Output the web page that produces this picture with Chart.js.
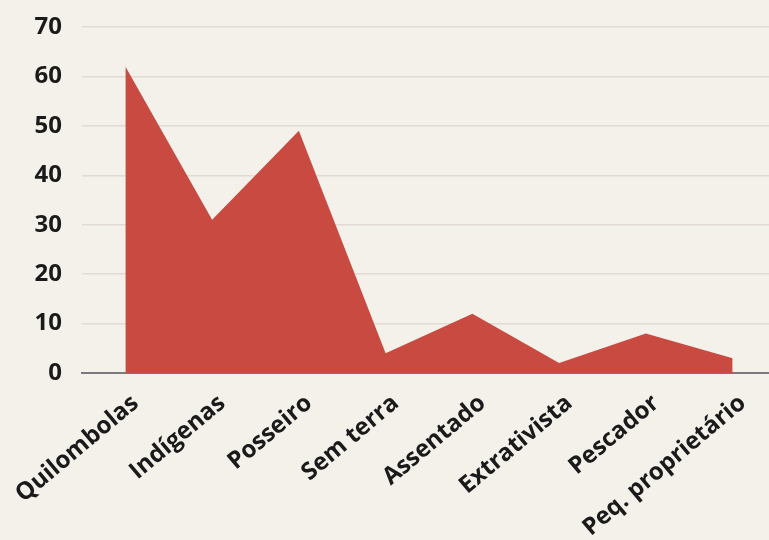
<!DOCTYPE html>
<html>
<head>
<meta charset="utf-8">
<script src="https://cdn.jsdelivr.net/npm/chart.js@4.4.1/dist/chart.umd.min.js"></script>
<style>
  html, body { margin: 0; padding: 0; width: 769px; height: 540px; overflow: hidden; background: #f4f1eb; }
  #wrap { position: absolute; left: 0; top: 0; width: 776px; height: 540px; }
</style>
</head>
<body>
<div id="wrap"><canvas id="c" width="776" height="540"></canvas></div>
<script>
const categories = ["Quilombolas", "Indígenas", "Posseiro", "Sem terra", "Assentado", "Extrativista", "Pescador", "Peq. proprietário"];
const values = [62, 31, 49, 4, 12, 2, 8, 3];
const yTicks = [0, 10, 20, 30, 40, 50, 60, 70];

new Chart(document.getElementById('c'), {
  type: 'line',
  data: {
    labels: categories,
    datasets: [{
      data: values,
      fill: 'origin',
      backgroundColor: 'rgb(201,74,64)',
      borderWidth: 0,
      borderColor: 'rgba(0,0,0,0)',
      pointRadius: 0,
      tension: 0
    }]
  },
  options: {
    responsive: false,
    animation: false,
    layout: { padding: { top: 27, left: 0, right: 0, bottom: 0 } },
    plugins: { legend: { display: false }, tooltip: { enabled: false } },
    scales: {
      x: {
        offset: true,
        grid: { display: false, drawTicks: false },
        border: { display: true, color: '#7a7a7a', width: 2 },
        ticks: {
          color: '#1a1a1a',
          font: { family: 'Open Sans', weight: 'bold', size: 24 },
          minRotation: 40, maxRotation: 40,
          padding: 16,
          labelOffset: 10,
          autoSkip: false
        },
        afterFit: (s) => { s.height = 167; s.paddingLeft = 0; s.paddingRight = 0; }
      },
      y: {
        min: 0, max: 70,
        z: 1,
        afterBuildTicks: (s) => { s.ticks = yTicks.map(v => ({ value: v })); },
        grid: { color: 'rgba(160,140,120,0.22)', lineWidth: 1.5, drawTicks: false },
        border: { display: false },
        ticks: {
          color: '#1a1a1a',
          font: { family: 'Open Sans', weight: 'bold', size: 24 },
          padding: 20
        },
        afterFit: (s) => { s.width = 82; s.paddingTop = 0; s.paddingBottom = 0; }
      }
    }
  }
});
</script>
</body>
</html>
